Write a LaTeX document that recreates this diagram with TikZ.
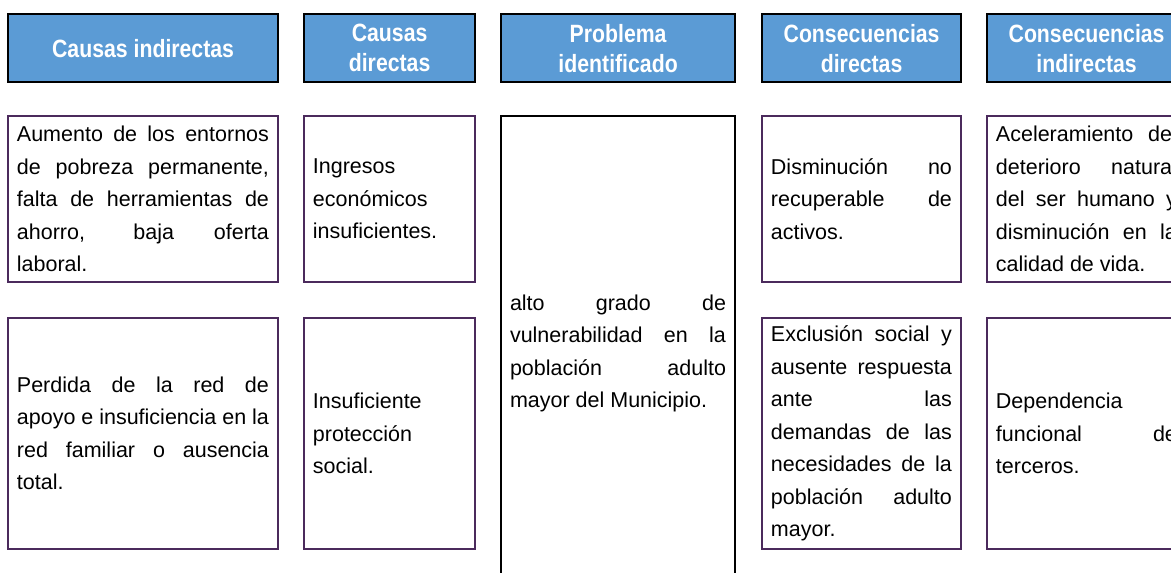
\documentclass[tikz,border=0pt]{standalone}
\usepackage{fontspec}
\setmainfont{Liberation Sans}
\newfontfamily\headfont{Liberation Sans}[FakeStretch=0.85]
\hyphenpenalty=10000
\exhyphenpenalty=10000
\hbadness=10000
\definecolor{headblue}{HTML}{5B9BD5}
\definecolor{cellpurple}{HTML}{4B2A5C}

\begin{document}
\begin{tikzpicture}[x=1pt, y=-1pt,
    header/.style={draw=black, line width=2.2pt, fill=headblue, text=white,
        anchor=north west, align=center, inner sep=0pt, minimum height=68pt,
        font=\headfont\bfseries\fontsize{25}{30}\selectfont},
    cell/.style={draw=cellpurple, line width=1.9pt, anchor=north west,
        align=justify, inner xsep=9pt, inner ysep=0pt,
        font=\fontsize{21.5}{32.5}\selectfont},
    problem/.style={cell, draw=black, line width=2pt}]
    \useasboundingbox (0,0) rectangle (1171,573);
    \clip (0,0) rectangle (1171,573);

    \node[header, minimum width=270pt] (hdCausasInd) at (7,13) {Causas indirectas};
    \node[header, minimum width=171pt] (hdCausasDir) at (303,13) {Causas\\directas};
    \node[header, minimum width=234pt] (hdProblema) at (500,13) {Problema\\identificado};
    \node[header, minimum width=199pt] (hdConsDir) at (761,13) {Consecuencias\\directas};
    \node[header, minimum width=199pt] (hdConsInd) at (986,13) {Consecuencias\\indirectas};

    \node[cell, text width=252pt, minimum height=166pt] (causaIndUno) at (7,115)
        {Aumento de los entornos\linebreak de pobreza permanente,\linebreak
         falta de herramientas de\linebreak ahorro, baja oferta\linebreak laboral.};
    \node[cell, text width=252pt, minimum height=231pt] (causaIndDos) at (7,317)
        {Perdida de la red de\linebreak apoyo e insuficiencia en la\linebreak
         red familiar o ausencia\linebreak total.};

    \node[cell, text width=153pt, minimum height=166pt] (causaDirUno) at (303,115)
        {Ingresos\newline económicos\newline insuficientes.};
    \node[cell, text width=153pt, minimum height=231pt] (causaDirDos) at (303,317)
        {Insuficiente\newline protección\newline social.};

    \node[problem, text width=216pt, minimum height=475pt] (problema) at (500,115)
        {alto grado de\linebreak vulnerabilidad en la\linebreak
         población adulto\linebreak mayor del Municipio.};

    \node[cell, text width=181pt, minimum height=166pt] (consDirUno) at (761,115)
        {Disminución no\linebreak recuperable de\linebreak activos.};
    \node[cell, text width=181pt, minimum height=231pt] (consDirDos) at (761,317)
        {Exclusión social y\linebreak ausente respuesta\linebreak ante las\linebreak
         demandas de las\linebreak necesidades de la\linebreak
         población adulto\linebreak mayor.};

    \node[cell, text width=181pt, minimum height=166pt] (consIndUno) at (986,115)
        {Aceleramiento del\linebreak deterioro natural\linebreak
         del ser humano y\linebreak disminución en la\linebreak calidad de vida.};
    \node[cell, text width=181pt, minimum height=231pt] (consIndDos) at (986,317)
        {Dependencia\newline funcional de\linebreak terceros.};
\end{tikzpicture}
\end{document}
